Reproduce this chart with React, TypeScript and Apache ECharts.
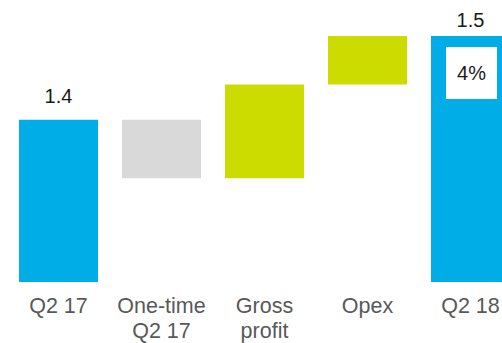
import React, { useEffect, useRef } from "react";
import * as echarts from "echarts";

const categories = ["Q2 17", "One-time\nQ2 17", "Gross\nprofit", "Opex", "Q2 18"];
const startValue = 1.4;
const deltas = [-0.07, 0.112, 0.058];
const endValue = 1.5;
const endLabels = ["1.4", "", "", "", "1.5"];
const growthLabel = "4%";

const BLUE = "#00ADE6";
const GREY = "#D9D9D9";
const LIME = "#CCDC00";
const FONT = "Arial, 'Liberation Sans', sans-serif";

export default function App() {
  const ref = useRef<HTMLDivElement>(null);
  useEffect(() => {
    document.body.style.margin = "0";
    document.body.style.overflow = "hidden";
    const chart = echarts.init(ref.current!, null, { renderer: "svg" });

    const base: number[] = [0];
    const visible: number[] = [startValue];
    const colors: string[] = [BLUE];
    let running = startValue;
    deltas.forEach((d) => {
      const next = running + d;
      base.push(Math.min(running, next));
      visible.push(Math.abs(d));
      colors.push(d < 0 ? GREY : LIME);
      running = next;
    });
    base.push(0);
    visible.push(endValue);
    colors.push(BLUE);

    const labelDist = [14, 0, 0, 0, 6];

    chart.setOption({
      animation: false,
      grid: { left: 7, right: 0, top: 36, bottom: 60 },
      xAxis: {
        type: "category",
        data: categories,
        axisLine: { show: false },
        axisTick: { show: false },
        axisLabel: {
          color: "#595959",
          fontSize: 21.5,
          lineHeight: 25,
          fontFamily: FONT,
          margin: 11,
          interval: 0,
        },
      },
      yAxis: {
        type: "value",
        min: 1.206,
        max: 1.5,
        show: false,
        splitLine: { show: false },
      },
      series: [
        {
          type: "bar",
          stack: "w",
          barWidth: 79,
          itemStyle: { color: "transparent" },
          data: base,
          silent: true,
        },
        {
          type: "bar",
          stack: "w",
          barWidth: 79,
          data: visible.map((v, i) => ({
            value: v,
            itemStyle: { color: colors[i] },
            label: {
              show: endLabels[i] !== "",
              position: "top",
              distance: labelDist[i],
              formatter: endLabels[i],
              color: "#1a1a1a",
              fontSize: 20,
              fontFamily: FONT,
            },
          })),
          markPoint: {
            symbol: "rect",
            symbolSize: [51, 52],
            symbolOffset: [1, 37],
            itemStyle: { color: "#ffffff" },
            label: {
              show: true,
              position: "inside",
              formatter: growthLabel,
              color: "#1a1a1a",
              fontSize: 20,
              fontFamily: FONT,
            },
            data: [{ coord: [categories.length - 1, endValue] }],
          },
        },
      ],
    });
    return () => chart.dispose();
  }, []);
  return <div ref={ref} style={{ width: 522, height: 343 }} />;
}
